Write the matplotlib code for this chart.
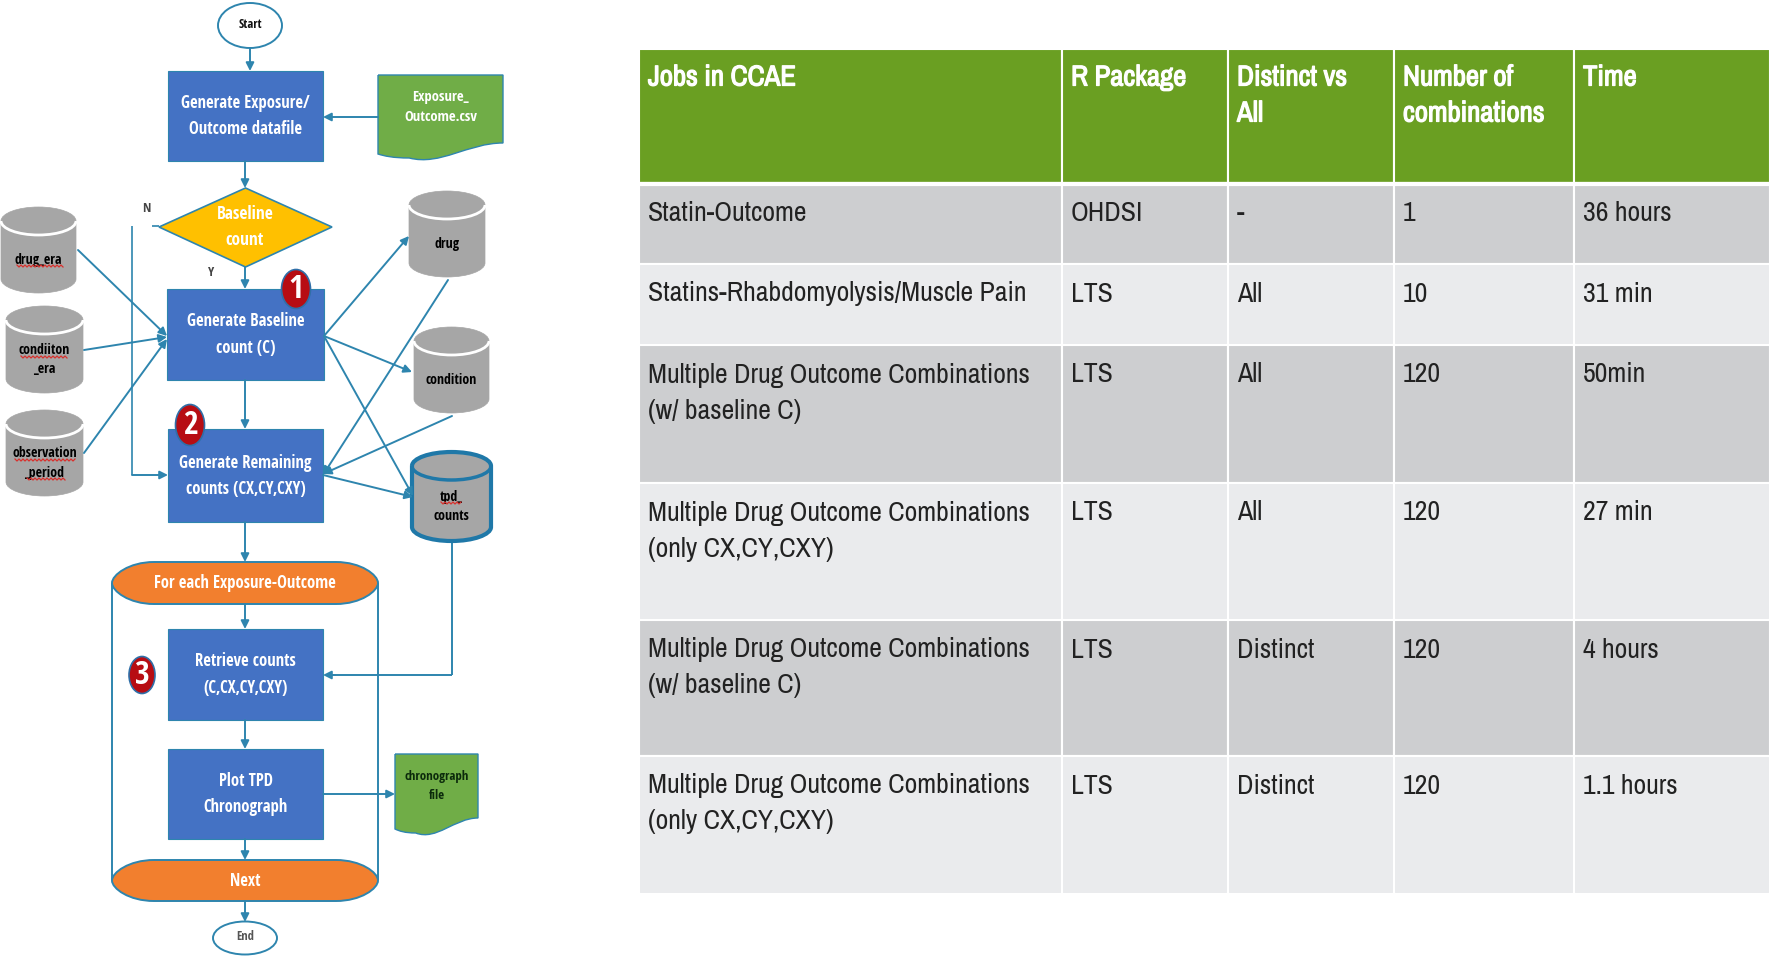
import matplotlib
matplotlib.use("Agg")
import matplotlib.pyplot as plt
import matplotlib.patheffects as pe
from matplotlib import font_manager
from matplotlib.patches import Rectangle, Ellipse, PathPatch, Polygon
from matplotlib.path import Path

# --- table content ---
table_header = ["Jobs in CCAE", "R Package", "Distinct vs\nAll", "Number of\ncombinations", "Time"]
jobs = ["Statin-Outcome",
        "Statins-Rhabdomyolysis/Muscle Pain",
        "Multiple Drug Outcome Combinations\n(w/ baseline C)",
        "Multiple Drug Outcome Combinations\n(only CX,CY,CXY)",
        "Multiple Drug Outcome Combinations\n(w/ baseline C)",
        "Multiple Drug Outcome Combinations\n(only CX,CY,CXY)"]
packages = ["OHDSI", "LTS", "LTS", "LTS", "LTS", "LTS"]
distinct = ["-", "All", "All", "All", "Distinct", "Distinct"]
combos = ["1", "10", "120", "120", "120", "120"]
times = ["36 hours", "31 min", "50min", "27 min", "4 hours", "1.1 hours"]

# table grid, pixels
col_edges = [639, 1062, 1228, 1394, 1574, 1770]
row_edges = [49, 183, 264, 345, 483, 620, 756, 894]

BLUE = '#4472C4'
GREEN = '#70AD47'
ORANGE = '#F27F2E'
GREY = '#A6A6A6'
LINE = '#2E85AE'
RED = '#B70D13'

# condensed faces if they are there, else a plain sans at a smaller size
installed = {f.name for f in font_manager.fontManager.ttflist}
TABLE_FONT, TABLE_SIZE = ('Archivo Narrow', 20) if 'Archivo Narrow' in installed else ('Liberation Sans', 16.5)
HEADER_SIZE = TABLE_SIZE * 1.035
FLOW_FONT, FLOW_SCALE = ('Open Sans Condensed', 1.0) if 'Open Sans Condensed' in installed else ('Liberation Sans', 0.72)

fig = plt.figure(figsize=(17.7, 9.56), dpi=100)
ax = fig.add_axes([0, 0, 1, 1])
ax.set_xlim(0, 1770)
ax.set_ylim(956, 0)
ax.axis('off')


def flow_text(x, y, label, pitch, size, color, zorder=5):
    # y is the middle of the whole block
    parts = label.split("\n")
    y0 = y - pitch * (len(parts) - 1) / 2
    for k, part in enumerate(parts):
        ax.text(x, y0 + k * pitch, part, color=color, ha='center', va='center',
                fontsize=size * FLOW_SCALE, family=FLOW_FONT, fontweight='bold', zorder=zorder)


def box(x0, y0, x1, y1, label):
    ax.add_patch(Rectangle((x0, y0), x1 - x0, y1 - y0, fc=BLUE, ec=LINE, lw=0.8, zorder=3))
    flow_text((x0 + x1) / 2, (y0 + y1) / 2, label, 26, 12, 'white')


def arrow(x0, y0, x1, y1):
    ax.annotate("", xy=(x1, y1), xytext=(x0, y0), zorder=4,
                arrowprops=dict(arrowstyle='-|>', color=LINE, lw=1.4, mutation_scale=12,
                                shrinkA=0, shrinkB=0))


def line(xs, ys, lw=1.4):
    ax.plot(xs, ys, color=LINE, lw=lw, zorder=2, solid_capstyle='butt')


def squiggle(x0, x1, y):
    # spell check underline
    xs, ys = [], []
    x, up = x0, True
    while x <= x1:
        xs.append(x)
        ys.append(y - 1 if up else y + 1)
        x += 2
        up = not up
    ax.plot(xs, ys, color='#D9302C', lw=0.9, zorder=6)


def cylinder(x0, y0, x1, y1, label, outlined=False):
    xm = (x0 + x1) / 2
    cap = 14
    k = 0.55
    rx = (x1 - x0) / 2
    verts = [(x0, y0 + cap),
             (x0, y0 + cap - k * cap), (xm - k * rx, y0), (xm, y0),
             (xm + k * rx, y0), (x1, y0 + cap - k * cap), (x1, y0 + cap),
             (x1, y1 - cap),
             (x1, y1 - cap + k * cap), (xm + k * rx, y1), (xm, y1),
             (xm - k * rx, y1), (x0, y1 - cap + k * cap), (x0, y1 - cap),
             (x0, y0 + cap)]
    codes = [Path.MOVETO] + [Path.CURVE4] * 6 + [Path.LINETO] + [Path.CURVE4] * 6 + [Path.LINETO]
    ec = '#1F78A8' if outlined else GREY
    ax.add_patch(PathPatch(Path(verts, codes), fc=GREY, ec=ec, lw=3 if outlined else 0.5, zorder=3))
    # lower rim of the lid
    rim = [(x0, y0 + cap), (x0, y0 + cap + k * cap), (xm - k * rx, y0 + 2 * cap), (xm, y0 + 2 * cap),
           (xm + k * rx, y0 + 2 * cap), (x1, y0 + cap + k * cap), (x1, y0 + cap)]
    rim_codes = [Path.MOVETO] + [Path.CURVE4] * 6
    ax.add_patch(PathPatch(Path(rim, rim_codes), fc='none', ec='#1F78A8' if outlined else 'white',
                           lw=2.5 if outlined else 2, zorder=4))
    flow_text(xm, (y0 + y1) / 2 + 10, label, 19.5, 10, 'black')


def document(x0, y0, x1, y1, y_right, label, color, size):
    w = x1 - x0
    verts = [(x0, y0), (x1, y0), (x1, y_right),
             (x0 + 0.72 * w, y_right), (x0 + 0.5 * w, y1 + 8), (x0 + 0.25 * w, y1),
             (x0 + 0.12 * w, y1), (x0 + 0.05 * w, y1 - 2), (x0, y1 - 4),
             (x0, y0)]
    codes = [Path.MOVETO, Path.LINETO, Path.LINETO] + [Path.CURVE4] * 6 + [Path.LINETO]
    ax.add_patch(PathPatch(Path(verts, codes), fc=GREEN, ec=LINE, lw=1, zorder=3))
    flow_text((x0 + x1) / 2, y0 + 32, label, 19.5, size, color)


def terminator(x0, y0, x1, y1, label):
    r = 42
    ym = (y0 + y1) / 2
    verts = [(x0 + r, y0), (x1 - r, y0),
             (x1 - 17, y0), (x1, ym - 8), (x1, ym),
             (x1, ym + 8), (x1 - 17, y1), (x1 - r, y1),
             (x0 + r, y1),
             (x0 + 17, y1), (x0, ym + 8), (x0, ym),
             (x0, ym - 8), (x0 + 17, y0), (x0 + r, y0)]
    codes = [Path.MOVETO, Path.LINETO] + [Path.CURVE4] * 6 + [Path.LINETO] + [Path.CURVE4] * 6
    ax.add_patch(PathPatch(Path(verts, codes), fc=ORANGE, ec=LINE, lw=1.4, zorder=3))
    flow_text((x0 + x1) / 2, ym, label, 26, 12, 'white')


def oval(cx, cy, w, h, label, color):
    ax.add_patch(Ellipse((cx, cy), w, h, fc='white', ec=LINE, lw=1.4, zorder=3))
    flow_text(cx, cy - 1, label, 19, 9, color)


def badge(cx, cy, w, h, label):
    ax.add_patch(Ellipse((cx, cy), w, h, fc=RED, ec='#2F6FA8', lw=1.2, zorder=6))
    flow_text(cx, cy, label, 26, 23, 'white', zorder=7)


# --- flow chart ---
oval(250, 25.5, 64, 45, "Start", '#111111')
box(168, 71, 323, 161, "Generate Exposure/\nOutcome datafile")
document(378, 75, 503, 158, 143, "Exposure_\nOutcome.csv", 'white', 10.5)
ax.add_patch(Polygon([(159, 227), (245.5, 188), (332, 227), (245.5, 267)], closed=True,
                     fc='#FFC000', ec=LINE, lw=1.2, zorder=3))
flow_text(245, 227, "Baseline\ncount", 26, 12.5, 'white')
ax.text(146, 208, "N", color='#444444', ha='center', va='center', fontsize=9.5 * FLOW_SCALE, family=FLOW_FONT, fontweight='bold')
ax.text(211, 272, "Y", color='#444444', ha='center', va='center', fontsize=9.5 * FLOW_SCALE, family=FLOW_FONT, fontweight='bold')
box(167, 289, 324, 380, "Generate Baseline\ncount (C)")
box(168, 429, 323, 522, "Generate Remaining\ncounts (CX,CY,CXY)")
box(168, 629, 323, 720, "Retrieve counts\n(C,CX,CY,CXY)")
box(168, 749, 323, 839, "Plot TPD\nChronograph")
document(395, 754, 478, 833, 818, "chronograph\nfile", '#0B2A0B', 9.3)

cylinder(1, 207, 76, 293, "drug_era")
cylinder(6, 306, 83, 393, "condiiton\n_era")
cylinder(6, 410, 83, 496, "observation\n_period")
cylinder(409, 191, 485, 277, "drug")
cylinder(414, 327, 489, 413, "condition")
cylinder(412, 452, 491, 541, "tpd_\ncounts", outlined=True)

squiggle(17, 63, 266)
squiggle(21, 67, 357)
squiggle(15, 76, 460)
squiggle(27, 66, 479)
squiggle(441, 461, 503)

terminator(112, 562, 378, 604, "For each Exposure-Outcome")
terminator(112, 860, 378, 901, "Next")
oval(245, 938, 64, 33, "End", '#555555')

line([112, 112], [583, 880])
line([378, 378], [583, 880])
line([132, 132], [226, 475], lw=1.2)
line([152, 159], [226, 226], lw=1.2)
line([452, 452], [541, 675])
line([452, 330], [675, 675])

arrow(250, 48, 250, 71)
arrow(378, 117, 323, 117)
arrow(245, 161, 245, 188)
arrow(245, 267, 245, 289)
arrow(245, 380, 245, 429)
arrow(132, 475, 168, 475)
arrow(78, 250, 167, 336)
arrow(84, 350, 167, 337)
arrow(84, 453, 167, 339)
arrow(324, 336, 409, 236)
arrow(324, 336, 412, 372)
arrow(324, 336, 413, 496)
arrow(448, 280, 323, 475)
arrow(452, 416, 323, 474)
arrow(323, 475, 413, 497)
arrow(245, 522, 245, 562)
arrow(245, 604, 245, 629)
arrow(335, 675, 323, 675)
arrow(245, 720, 245, 749)
arrow(323, 794, 395, 794)
arrow(245, 839, 245, 860)
arrow(245, 901, 245, 922)

badge(296, 289, 29, 39, "1")
badge(190, 425, 29, 41, "2")
badge(142, 675, 26, 37, "3")

# --- table ---
rows = [table_header] + [list(r) for r in zip(jobs, packages, distinct, combos, times)]
for i, row in enumerate(rows):
    top, bottom = row_edges[i], row_edges[i + 1]
    if i == 0:
        fill = '#6A9F22'
    elif i % 2 == 1:
        fill = '#CDCED0'
    else:
        fill = '#EAEBED'
    for j, cell in enumerate(row):
        left, right = col_edges[j], col_edges[j + 1]
        ax.add_patch(Rectangle((left, top), right - left, bottom - top, fc=fill, ec='white', lw=1.5, zorder=1))
        for k, part in enumerate(cell.split("\n")):
            if i == 0:
                # the narrow face has no bold file, thicken it with a stroke
                ax.text(left + 9, top + 28 + k * 36, part, color='white', ha='left', va='center',
                        fontsize=HEADER_SIZE, family=TABLE_FONT, fontweight='bold', zorder=2,
                        path_effects=[pe.withStroke(linewidth=0.9, foreground='white')])
            else:
                ax.text(left + 9, top + 30 + k * 36, part, color='#222222', ha='left', va='center',
                        fontsize=TABLE_SIZE, family=TABLE_FONT, zorder=2)
# heavier white rule under the header
ax.plot([639, 1770], [184, 184], color='white', lw=3, zorder=2)

fig.savefig("out.png", dpi=100)
